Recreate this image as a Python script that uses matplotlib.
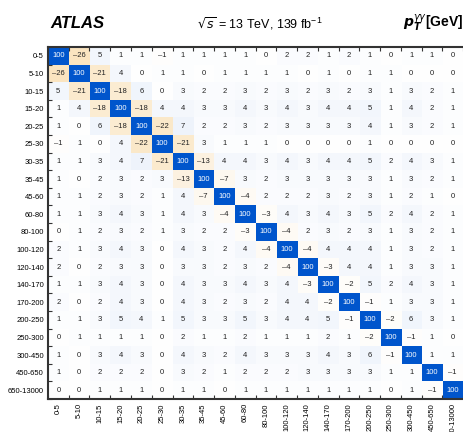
import numpy as np
import matplotlib.pyplot as plt
from matplotlib.colors import LinearSegmentedColormap

plt.rcParams['font.family'] = ['Liberation Sans', 'DejaVu Sans']

bins = ["0-5", "5-10", "10-15", "15-20", "20-25", "25-30", "30-35", "35-45",
        "45-60", "60-80", "80-100", "100-120", "120-140", "140-170", "170-200",
        "200-250", "250-300", "300-450", "450-650", "650-13000"]

corr = np.array([
    [100, -26, 5, 1, 1, -1, 1, 1, 1, 1, 0, 2, 2, 1, 2, 1, 0, 1, 1, 0],
    [-26, 100, -21, 4, 0, 1, 1, 0, 1, 1, 1, 1, 0, 1, 0, 1, 1, 0, 0, 0],
    [5, -21, 100, -18, 6, 0, 3, 2, 2, 3, 2, 3, 2, 3, 2, 3, 1, 3, 2, 1],
    [1, 4, -18, 100, -18, 4, 4, 3, 3, 4, 3, 4, 3, 4, 4, 5, 1, 4, 2, 1],
    [1, 0, 6, -18, 100, -22, 7, 2, 2, 3, 2, 3, 3, 3, 3, 4, 1, 3, 2, 1],
    [-1, 1, 0, 4, -22, 100, -21, 3, 1, 1, 1, 0, 0, 0, 0, 1, 0, 0, 0, 0],
    [1, 1, 3, 4, 7, -21, 100, -13, 4, 4, 3, 4, 3, 4, 4, 5, 2, 4, 3, 1],
    [1, 0, 2, 3, 2, 3, -13, 100, -7, 3, 2, 3, 3, 3, 3, 3, 1, 3, 2, 1],
    [1, 1, 2, 3, 2, 1, 4, -7, 100, -4, 2, 2, 2, 3, 2, 3, 1, 2, 1, 0],
    [1, 1, 3, 4, 3, 1, 4, 3, -4, 100, -3, 4, 3, 4, 3, 5, 2, 4, 2, 1],
    [0, 1, 2, 3, 2, 1, 3, 2, 2, -3, 100, -4, 2, 3, 2, 3, 1, 3, 2, 1],
    [2, 1, 3, 4, 3, 0, 4, 3, 2, 4, -4, 100, -4, 4, 4, 4, 1, 3, 2, 1],
    [2, 0, 2, 3, 3, 0, 3, 3, 2, 3, 2, -4, 100, -3, 4, 4, 1, 3, 3, 1],
    [1, 1, 3, 4, 3, 0, 4, 3, 3, 4, 3, 4, -3, 100, -2, 5, 2, 4, 3, 1],
    [2, 0, 2, 4, 3, 0, 4, 3, 2, 3, 2, 4, 4, -2, 100, -1, 1, 3, 3, 1],
    [1, 1, 3, 5, 4, 1, 5, 3, 3, 5, 3, 4, 4, 5, -1, 100, -2, 6, 3, 1],
    [0, 1, 1, 1, 1, 0, 2, 1, 1, 2, 1, 1, 1, 2, 1, -2, 100, -1, 1, 0],
    [1, 0, 3, 4, 3, 0, 4, 3, 2, 4, 3, 3, 3, 4, 3, 6, -1, 100, 1, 1],
    [1, 0, 2, 2, 2, 0, 3, 2, 1, 2, 2, 2, 3, 3, 3, 3, 1, 1, 100, -1],
    [0, 0, 1, 1, 1, 0, 1, 1, 0, 1, 1, 1, 1, 1, 1, 1, 0, 1, -1, 100],
])

cmap = LinearSegmentedColormap.from_list(
    "atlas", [(0.0, "#ec9a10"), (0.5, "#ffffff"), (1.0, "#0055cc")])

fig = plt.figure(figsize=(4.64, 4.32), dpi=100)
ax = fig.add_axes([0.1034, 0.0764, 0.8946, 0.8146])

n = len(bins)
ax.imshow(corr, cmap=cmap, vmin=-100, vmax=100, aspect='auto',
          interpolation='nearest')

for i in range(n):
    for j in range(n):
        v = corr[i, j]
        txt = str(v).replace("-", "\u2013")
        col = "white" if v == 100 else "#222222"
        ax.text(j, i, txt, ha='center', va='center', fontsize=5.5, color=col)

ax.set_xticks(range(n))
ax.set_xticklabels(bins, rotation=90, fontsize=5.5)
ax.set_yticks(range(n))
ax.set_yticklabels(bins, fontsize=5.5)
ax.tick_params(axis='both', which='major', length=0, pad=3)
ax.set_xticks(np.arange(-0.5, n, 1), minor=True)
ax.set_yticks(np.arange(-0.5, n, 1), minor=True)
ax.tick_params(axis='x', which='minor', length=3, width=0.8, color='#333333',
               direction='in', top=True, bottom=True)
ax.tick_params(axis='y', which='minor', length=3, width=0.8, color='#333333',
               direction='in', left=True)

ax.spines['right'].set_visible(False)
for s in ['left', 'top', 'bottom']:
    ax.spines[s].set_linewidth(1.5)
    ax.spines[s].set_color('#333333')

fig.text(0.108, 0.945, "ATLAS", fontsize=12, fontweight='bold',
         fontstyle='italic', va='center')
fig.text(0.425, 0.945, r"$\sqrt{s}$ = 13 TeV, 139 fb$^{\mathregular{-1}}$",
         fontsize=9, va='center')
fig.text(0.868, 0.945,
         r"$\boldsymbol{p}_{\boldsymbol{T}}^{\gamma\gamma}$[GeV]",
         fontsize=10, fontweight='bold', va='center')

fig.savefig("out.png", dpi=100)
